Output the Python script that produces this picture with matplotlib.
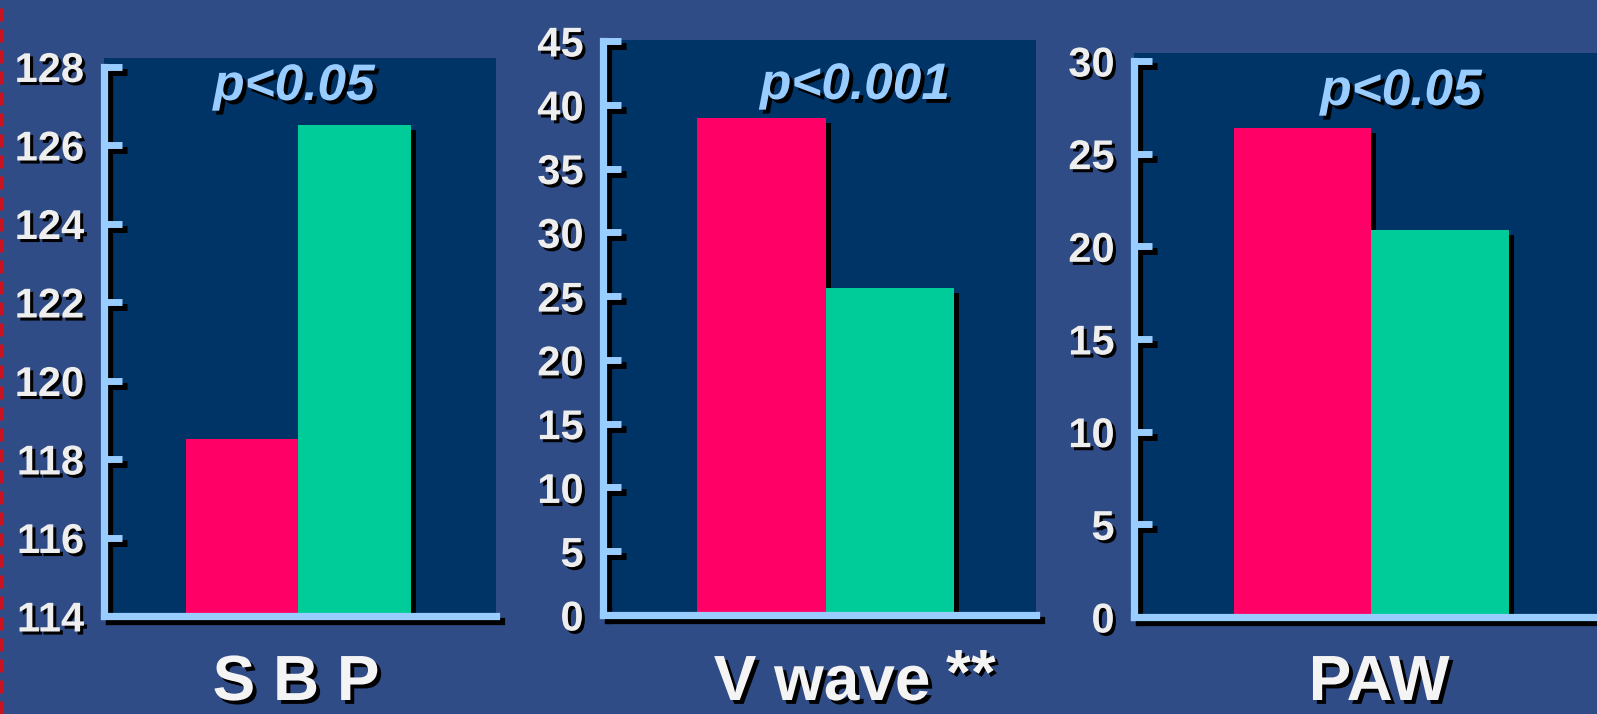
import matplotlib
matplotlib.use("Agg")
import matplotlib.pyplot as plt
import matplotlib.patheffects as pe
from matplotlib.lines import Line2D

plt.rcParams["font.family"] = ["Liberation Sans", "DejaVu Sans"]

# data for the three panels
groups = ["S B P", "V wave", "PAW"]
pvalues = ["p<0.05", "p<0.001", "p<0.05"]
red_vals = [118.5, 39.0, 26.4]
green_vals = [126.5, 25.6, 20.9]
y_mins = [114, 0, 0]
y_maxs = [128, 45, 30]
y_steps = [2, 5, 5]

# colours
BG = "#304c86"
NAVY = "#003366"
RED = "#ff0066"
GREEN = "#00cc99"
AXIS = "#99ccff"
WHITE = "#eeeeee"

W, H = 1597, 714
fig = plt.figure(figsize=(W / 100, H / 100), dpi=100, facecolor=BG)

# panel boxes in pixels: left, right, top of navy, bottom axis line
boxes = [(103.5, 496, 58, 616), (603, 1036, 40, 615), (1134, 1597, 53, 617)]
top_tick_px = [66.5, 41, 61]
xlims = [(-1.233, 2.256), (-1.232, 2.138), (-1.227, 2.14)]
title_pos = [(294, 100), (855, 99), (1401, 105)]
label_x = [296, 822, 1379]


def shadow(dx=3.6, dy=-3.6):
    return [pe.SimplePatchShadow(offset=(dx, dy), shadow_rgbFace="k", alpha=1.0), pe.Normal()]


def line_shadow(dx=3.6, dy=-3.6):
    return [pe.SimpleLineShadow(offset=(dx, dy), shadow_color="k", alpha=1.0), pe.Normal()]


for i in range(3):
    left, right, top, bottom = boxes[i]
    ax = fig.add_axes([left / W, (H - bottom) / H, (right - left) / W, (bottom - top) / H])
    ax.set_facecolor(NAVY)

    ppu = (bottom - top_tick_px[i]) / (y_maxs[i] - y_mins[i])
    ax.set_ylim(y_mins[i], y_maxs[i] + (top_tick_px[i] - top) / ppu)
    ax.set_xlim(*xlims[i])

    bars = ax.bar([0, 1], [red_vals[i] - y_mins[i], green_vals[i] - y_mins[i]],
                  bottom=y_mins[i], width=1.0, color=[RED, GREEN], zorder=2)
    for b in bars:
        b.set_path_effects(shadow())

    for side in ["top", "right"]:
        ax.spines[side].set_visible(False)
    for side in ["left", "bottom"]:
        sp = ax.spines[side]
        sp.set_color(AXIS)
        sp.set_linewidth(5.2)
        sp.set_capstyle("projecting")
        sp.set_path_effects(line_shadow())
        sp.set_zorder(3)
    ax.spines["left"].set_bounds(y_mins[i], y_maxs[i])

    # ticks sit on top of the spine shadow
    ax.yaxis.set_zorder(3.5)
    ax.set_xticks([])
    ax.set_yticks(range(y_mins[i], y_maxs[i] + 1, y_steps[i]))
    ax.tick_params(axis="y", direction="in", length=13, width=5, color=AXIS,
                   pad=14, labelsize=30, labelcolor=WHITE)
    for k, t in enumerate(ax.yaxis.get_major_ticks()):
        t.tick1line.set_path_effects(line_shadow())
        if k == 0:
            t.tick1line.set_visible(False)
        t.label1.set_fontweight("bold")
        t.label1.set_path_effects(shadow(2.2, -2.2))

    tx, ty = title_pos[i]
    fig.text(tx / W, (H - ty) / H, pvalues[i], ha="center", va="baseline",
             fontsize=37, fontweight="bold", fontstyle="italic", color=AXIS,
             path_effects=shadow(2.8, -2.8))

    fig.text(label_x[i] / W, 1 / H, groups[i], ha="center", va="bottom",
             fontsize=46, fontweight="bold", color="#f4f4f4",
             path_effects=shadow(2.8, -2.8))

# footnote marks on the V wave label
fig.text(946 / W, (H - 694) / H, "**", ha="left", va="baseline",
         fontsize=46, fontweight="bold", color="#f4f4f4",
         path_effects=shadow(2.2, -2.2))

# dashed red guide on the left edge
fig.add_artist(Line2D([1.2 / W, 1.2 / W], [0, 1], transform=fig.transFigure,
                      color="#ff0000", linewidth=1.8, linestyle=(0, (5.2, 3.2))))

fig.savefig("out.png", dpi=100, facecolor=BG)
